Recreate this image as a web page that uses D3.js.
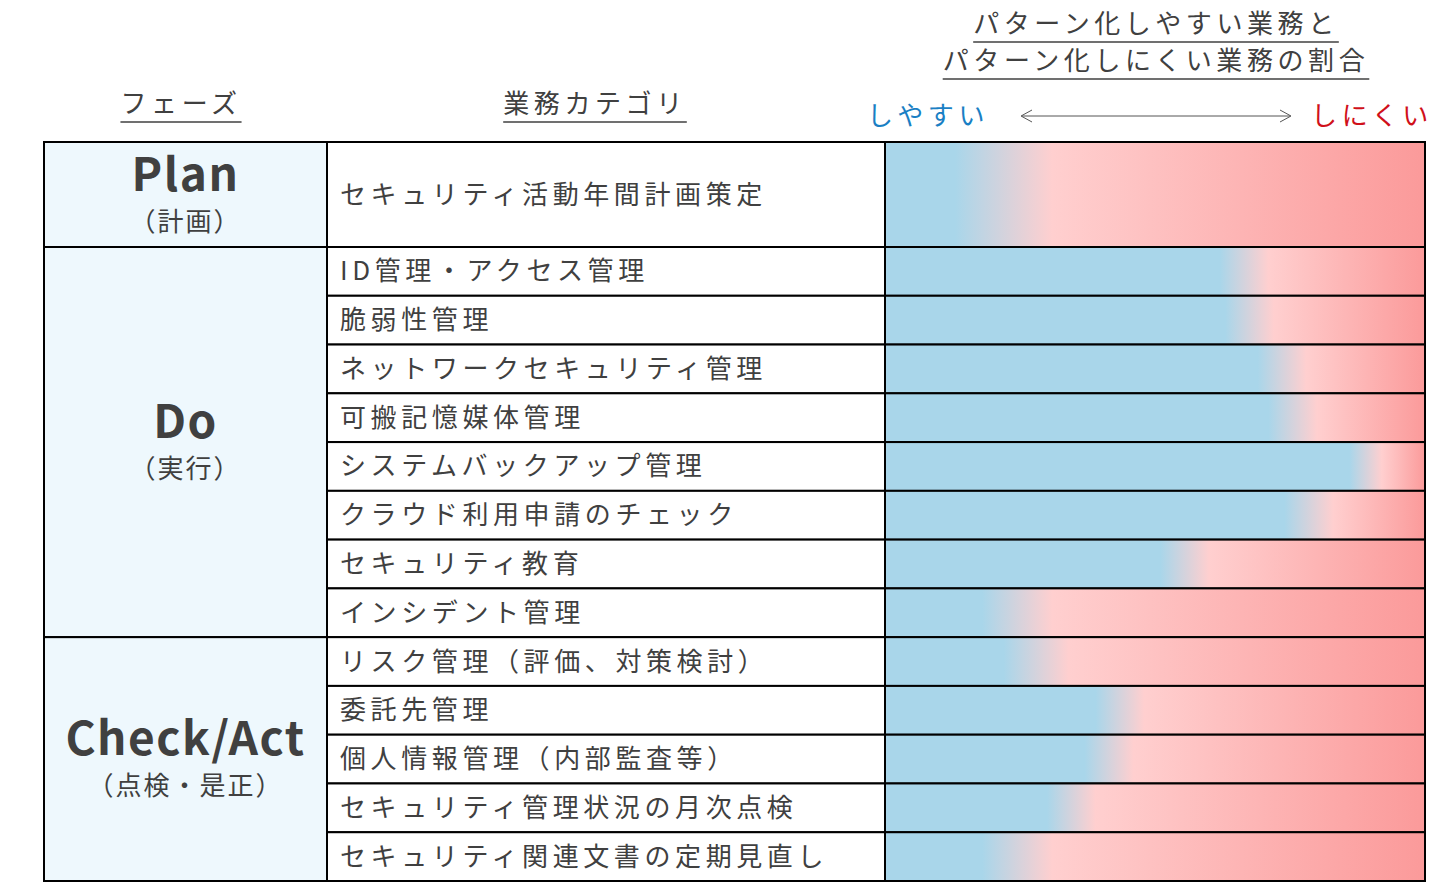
<!DOCTYPE html>
<html><head><meta charset="utf-8">
<script src="https://cdn.jsdelivr.net/npm/d3@7"></script>
<style>body{margin:0;background:#fff}text{font-family:"Noto Sans CJK JP","Noto Sans",sans-serif}</style>
</head><body><svg id="c" width="1440" height="889"></svg>
<script>
const categories = ['セキュリティ活動年間計画策定','ID管理・アクセス管理','脆弱性管理','ネットワークセキュリティ管理','可搬記憶媒体管理','システムバックアップ管理','クラウド利用申請のチェック','セキュリティ教育','インシデント管理','リスク管理（評価、対策検討）','委託先管理','個人情報管理（内部監査等）','セキュリティ管理状況の月次点検','セキュリティ関連文書の定期見直し']
// share of easy-to-pattern work (blue end) and start of hard part (pink start)
const blueEnd =   [0.13,0.62,0.63,0.69,0.71,0.86,0.74,0.51,0.18,0.22,0.39,0.37,0.30,0.18]
const pinkStart = [0.31,0.71,0.72,0.78,0.80,0.92,0.83,0.60,0.31,0.34,0.48,0.46,0.39,0.31]
const phases = [{name:'Plan',sub:'（計画）',from:0,to:0},{name:'Do',sub:'（実行）',from:1,to:8},{name:'Check/Act',sub:'（点検・是正）',from:9,to:13}]

const svg = d3.select('#c')
const x0 = 44, x1 = 327, x2 = 885, x3 = 1425
const rowY = [142, 247]
const y = d3.scaleLinear().domain([1, 14]).range([247, 881])
for (let i = 2; i <= 14; i++) rowY.push(y(i))
const xb = d3.scaleLinear().domain([0, 1]).range([x2, x3])

const defs = svg.append('defs')
categories.forEach((c, i) => {
  const g = defs.append('linearGradient').attr('id', 'g' + i)
  g.append('stop').attr('offset', 0).attr('stop-color', '#a9d6ea')
  g.append('stop').attr('offset', blueEnd[i]).attr('stop-color', '#a9d6ea')
  g.append('stop').attr('offset', pinkStart[i]).attr('stop-color', '#ffcfcf')
  g.append('stop').attr('offset', 1).attr('stop-color', '#fb9a9a')
})

// phase cells
phases.forEach(p => {
  const top = rowY[p.from], bot = rowY[p.to + 1], mid = (top + bot) / 2
  svg.append('rect').attr('x', x0).attr('y', top).attr('width', x1 - x0).attr('height', bot - top)
    .attr('fill', '#eef8fd').attr('stroke', '#000').attr('stroke-width', 2)
  svg.append('text').attr('x', (x0 + x1) / 2).attr('y', mid - 4).attr('text-anchor', 'middle')
    .attr('font-size', 46).attr('letter-spacing', 1.5).attr('font-weight', 'bold').attr('fill', '#404040').text(p.name)
  svg.append('text').attr('x', (x0 + x1) / 2).attr('y', mid + 36).attr('text-anchor', 'middle')
    .attr('font-size', 26).attr('letter-spacing', 2).attr('fill', '#404040').text(p.sub)
})

categories.forEach((c, i) => {
  const top = rowY[i], h = rowY[i + 1] - top
  svg.append('rect').attr('x', x1).attr('y', top).attr('width', x2 - x1).attr('height', h)
    .attr('fill', '#fff').attr('stroke', '#000').attr('stroke-width', 2)
  svg.append('text').attr('x', x1 + 13).attr('y', top + h / 2 + 9).attr('font-size', 26)
    .attr('letter-spacing', 4.6).attr('fill', '#404040').text(c)
  svg.append('rect').attr('x', xb(0)).attr('y', top).attr('width', xb(1) - xb(0)).attr('height', h)
    .attr('fill', `url(#g${i})`).attr('stroke', '#000').attr('stroke-width', 2)
})

// headers
function header(txt, cx, by) {
  const t = svg.append('text').attr('x', cx).attr('y', by).attr('text-anchor', 'middle')
    .attr('font-size', 26).attr('letter-spacing', 4.6).attr('fill', '#404040').text(txt)
  const w = t.node().getComputedTextLength()
  svg.append('line').attr('x1', cx - w / 2).attr('x2', cx + w / 2).attr('y1', by + 9).attr('y2', by + 9)
    .attr('stroke', '#404040').attr('stroke-width', 1.5)
}
header('フェーズ', 181, 113)
header('業務カテゴリ', 595, 113)
header('パターン化しやすい業務と', 1156, 33)
header('パターン化しにくい業務の割合', 1156, 70)

svg.append('text').attr('x', 928).attr('y', 125).attr('text-anchor', 'middle').attr('font-size', 26)
  .attr('letter-spacing', 4.6).attr('fill', '#1a7fc4').text('しやすい')
svg.append('text').attr('x', 1372).attr('y', 125).attr('text-anchor', 'middle').attr('font-size', 26)
  .attr('letter-spacing', 4.6).attr('fill', '#d0101a').text('しにくい')
svg.append('line').attr('x1', 1022).attr('x2', 1290).attr('y1', 116).attr('y2', 116).attr('stroke', '#555')
svg.append('path').attr('d', 'M1032,110 L1021,116 L1032,122 M1280,110 L1291,116 L1280,122')
  .attr('fill', 'none').attr('stroke', '#555')
</script></body></html>
